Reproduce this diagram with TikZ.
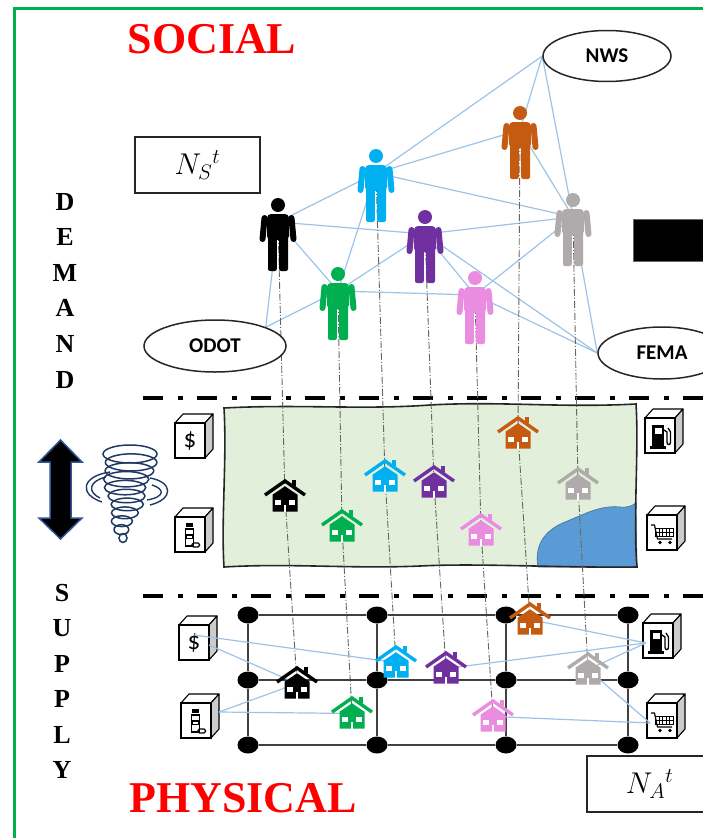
\documentclass[tikz,border=0pt]{standalone}
\usepackage{fix-cm}
\usepackage{fontspec}
\setmainfont{Liberation Serif}
\newfontfamily\calib{Carlito}
\usetikzlibrary{shapes.geometric}

\definecolor{frameGreen}{RGB}{0,176,80}
\definecolor{linkBlue}{RGB}{157,195,230}
\definecolor{pBlack}{RGB}{0,0,0}
\definecolor{pCyan}{RGB}{0,176,240}
\definecolor{pGreen}{RGB}{0,176,80}
\definecolor{pPurple}{RGB}{112,48,160}
\definecolor{pPink}{RGB}{234,140,224}
\definecolor{pOrange}{RGB}{197,90,17}
\definecolor{pGray}{RGB}{175,171,171}
\definecolor{mapGreen}{RGB}{226,239,218}
\definecolor{water}{RGB}{91,155,213}
\definecolor{waterEdge}{RGB}{60,110,160}
\definecolor{navy}{RGB}{31,56,100}
\definecolor{arrowBlue}{RGB}{47,85,151}
\definecolor{titleRed}{RGB}{255,0,0}

\pgfdeclarelayer{back}
\pgfdeclarelayer{links}
\pgfdeclarelayer{front}
\pgfsetlayers{back,links,main,front}

% 3D box with shaded side; origin = top-left corner of the front face
\newcommand\cubebody{%
  \filldraw[fill=white, draw=black, line width=1.1, line join=round] (0,0) -- (8,-9) -- (38,-9) -- (30,0) -- cycle;
  \filldraw[fill=black!20, draw=black, line width=1.1, line join=round] (30,0) -- (38,-9) -- (38,26) -- (30,35) -- cycle;
  \filldraw[fill=white, draw=black, line width=1.1] (0,0) rectangle (30,35);
  \coordinate (-a) at (15,10);
  \coordinate (-b) at (30,20);
  \coordinate (-s) at (38,9);
  \coordinate (-l) at (3,20);
}
% outline of the land parcel
\def\landoutline{(224,408) .. controls (300,404) and (360,410) .. (430,405) .. controls (500,401) and (560,408) .. (636,404) .. controls (639,450) and (633,520) .. (637,567) .. controls (560,568) and (480,563) .. (420,566) .. controls (350,569) and (290,563) .. (224,567) .. controls (221,520) and (227,460) .. cycle}

\tikzset{
  slink/.style={draw=linkBlue, line width=1.2},
  vlink/.style={draw=black!60, line width=0.9, dash pattern=on 7pt off 2pt on 1pt off 2pt},
  sepline/.style={line width=4.5, dash pattern=on 20pt off 15pt on 5pt off 14pt},
  gridline/.style={draw=black!75, line width=1.5},
  gdot/.style={ellipse, fill=black, minimum width=21, minimum height=17, inner sep=0},
  agency/.style={ellipse, draw=black!85, line width=1.5, fill=white, inner sep=0,
    font=\calib\bfseries\fontsize{21}{21}\selectfont},
  netbox/.style={draw=black!85, line width=1.5, minimum width=125, minimum height=56, inner sep=0,
    font=\fontsize{30}{30}\selectfont},
  bigtitle/.style={text=titleRed, font=\bfseries\fontsize{44}{44}\selectfont, inner sep=0},
  vletter/.style={font=\bfseries\fontsize{26}{26}\selectfont, inner sep=0},
  person/.pic={
    \fill[#1] (0,7) circle (7);
    \fill[#1, rounded corners=4] (-11,42) -- (-11,16) -- (11,16) -- (11,42) -- cycle;
    \draw[#1, line width=6, line cap=round] (-13.5,20) -- (-15.5,41);
    \draw[#1, line width=6, line cap=round] (13.5,20) -- (15.5,41);
    \fill[#1, rounded corners=2] (-10,38) rectangle (-1.2,73);
    \fill[#1, rounded corners=2] (1.2,38) rectangle (10,73);
    \coordinate (-c) at (0,24);
  },
  house/.pic={
    \fill[#1] (7,-16.5) rectangle (10.8,-10.5);
    \draw[#1, line width=3.4, line join=miter] (-20,-1.5) -- (0,-15.5) -- (20,-1.5);
    \fill[#1] (-12.5,-1.8) -- (0,-10.2) -- (12.5,-1.8) -- (12.5,15) -- (-12.5,15) -- cycle;
    \fill[white] (-9.8,3) rectangle (-4,8.8);
    \fill[white] (4,3) rectangle (9.8,8.8);
    \fill[white] (-1,8) rectangle (1,15);
    \coordinate (-c) at (0,0);
  },
  dollarcube/.pic={
    \cubebody
    \node[font=\calib\fontsize{25}{25}\selectfont, inner sep=0] (-t) at (15,17.5) {\$};
  },
  medcube/.pic={
    \cubebody
    \fill (11,6) rectangle (18,9.5);
    \fill (10,10.5) rectangle (19,12.5);
    \draw[line width=1.2] (10.6,12.5) rectangle (18.4,29);
    \fill (10,16.5) rectangle (19,22);
    \fill[white] (12,18.5) rectangle (17,20.5);
    \draw[line width=1.1, rounded corners=1.5] (17,26) rectangle (24.5,30);
  },
  pumpcube/.pic={
    \cubebody
    \fill (7,7) rectangle (19,29);
    \fill[white] (9.5,9.5) rectangle (16.5,16);
    \fill (5,28) rectangle (21,31);
    \draw[line width=1.3] (19,12) -- (22,14) -- (22,24) .. controls (22,27.5) and (25.5,27.5) .. (25.5,24) -- (25.5,14) -- (23,10);
  },
  cartcube/.pic={
    \cubebody
    \draw[line width=1.2, line join=round] (4,10) -- (7.5,10) -- (10.5,24) -- (25,24);
    \draw[line width=1] (8.5,13) rectangle (26,21);
    \foreach \xx in {12,15.5,19,22.5} \draw[line width=0.8] (\xx,13) -- (\xx,21);
    \draw[line width=0.8] (8.5,17) -- (26,17);
    \fill (13,27.5) circle (1.8);
    \fill (23,27.5) circle (1.8);
  },
}

\begin{document}
\begin{tikzpicture}[x=1pt,y=-1pt]
\useasboundingbox (0,0) rectangle (702,838);

% ---------- outer frame ----------
\draw[frameGreen, line width=3] (14,845) -- (14,8) -- (710,8);

% ---------- titles and side labels ----------
\node[bigtitle] (social) at (212,39) {SOCIAL};
\node[bigtitle] (physical) at (243,798.5) {PHYSICAL};
\foreach \ch [count=\k] in {D,E,M,A,N,D}
  \node[vletter] (dem\k) at (65,{166+35.6*\k}) {\ch};
\foreach \ch [count=\k] in {S,U,P,P,L,Y}
  \node[vletter] (sup\k) at (62,{557.5+35.4*\k}) {\ch};

\node[netbox] (ns) at (197.5,165) {$N_S{}^t$};
\node[netbox] (na) at (649.5,784) {$N_A{}^t$};

\fill[black, draw=black!60] (633,219) rectangle (710,261);

% ---------- agencies ----------
\node[agency, minimum width=128, minimum height=51] (nws) at (607,56) {NWS};
\node[agency, minimum width=142, minimum height=52] (odot) at (215,346) {ODOT};
\node[agency, minimum width=128, minimum height=52] (fema) at (662,353) {FEMA};

% ---------- people (social layer) ----------
\pic (pk) at (278,198) {person=pBlack};
\pic (pc) at (376,149) {person=pCyan};
\pic (pn) at (338,267) {person=pGreen};
\pic (pp) at (425,210) {person=pPurple};
\pic (pi) at (475,271) {person=pPink};
\pic (po) at (520,106) {person=pOrange};
\pic (pg) at (573,193) {person=pGray};

% ---------- houses (physical layer) ----------
\begin{pgfonlayer}{front}
  \pic (mk) at (285,496.5) {house=pBlack};
  \pic (mn) at (342,526.5) {house=pGreen};
  \pic (mc) at (385,476.5) {house=pCyan};
  \pic (mp) at (434,482.5) {house=pPurple};
  \pic (mo) at (518,433.5) {house=pOrange};
  \pic (mg) at (578,484.5) {house=pGray};
  \pic (mi) at (481,530.5) {house=pPink};
  \pic (gk) at (297,683.5) {house=pBlack};
  \pic (gn) at (352,713.5) {house=pGreen};
  \pic (gc) at (396,662.5) {house=pCyan};
  \pic (gp) at (446,668.5) {house=pPurple};
  \pic (gi) at (493,716.5) {house=pPink};
  \pic (go) at (530,619.5) {house=pOrange};
  \pic (gg) at (588,669.5) {house=pGray};
\end{pgfonlayer}

% ---------- social ties ----------
\begin{pgfonlayer}{links}
  \draw[slink] (nws.west) -- (pc-c);
  \draw[slink] (nws.west) -- (po-c);
  \draw[slink] (nws.west) -- (pg-c);
  \draw[slink] (pc-c) -- (po-c);
  \draw[slink] (pc-c) -- (pg-c);
  \draw[slink] (pk-c) -- (pc-c);
  \draw[slink] (pk-c) -- (pp-c);
  \draw[slink] (pk-c) -- (pn-c);
  \draw[slink] (pk-c) -- (odot.north east);
  \draw[slink] (pc-c) -- (pn-c);
  \draw[slink] (pn-c) -- (pp-c);
  \draw[slink] (pn-c) -- (pi-c);
  \draw[slink] (pn-c) -- (odot.north east);
  \draw[slink] (pp-c) -- (pg-c);
  \draw[slink] (pp-c) -- (pi-c);
  \draw[slink] (pp-c) -- (fema.west);
  \draw[slink] (pi-c) -- (pg-c);
  \draw[slink] (pi-c) -- (fema.west);
  \draw[slink] (pg-c) -- (fema.west);
  \draw[slink] (po-c) -- (pg-c);
  % person -> home -> home on the infrastructure grid
  \draw[vlink] (pk-c) -- (mk-c) -- (gk-c);
  \draw[vlink] (pn-c) -- (mn-c) -- (gn-c);
  \draw[vlink] (pc-c) -- (mc-c) -- (gc-c);
  \draw[vlink] (pp-c) -- (mp-c) -- (gp-c);
  \draw[vlink] (pi-c) -- (mi-c) -- (gi-c);
  \draw[vlink] (po-c) -- (mo-c) -- (go-c);
  \draw[vlink] (pg-c) -- (mg-c) -- (gg-c);
\end{pgfonlayer}

% ---------- land parcel with water body ----------
\begin{pgfonlayer}{back}
  \fill[mapGreen] \landoutline;
  \filldraw[fill=water, draw=waterEdge, line width=0.6] (538,567) .. controls (534,545) and (545,530) .. (565,522) .. controls (585,514) and (600,505) .. (620,507) .. controls (630,508) and (634,504) .. (636,503) -- (637,567) -- cycle;
  \draw[black!85, line width=1.6] \landoutline;
  \draw[sepline] (143,398) -- (710,398);
  \draw[sepline] (143,596) -- (710,596);
\end{pgfonlayer}

% ---------- infrastructure grid ----------
\foreach \c/\xx in {1/248,2/377,3/506,4/628}
  \foreach \r/\yy in {1/615,2/680,3/745}
    \node[gdot] (d\c\r) at (\xx,\yy) {};
\foreach \r in {1,2,3}{
  \draw[gridline] (d1\r) -- (d2\r);
  \draw[gridline] (d2\r) -- (d3\r);
  \draw[gridline] (d3\r) -- (d4\r);
}
\foreach \c in {1,2,3,4}{
  \draw[gridline] (d\c1) -- (d\c2);
  \draw[gridline] (d\c2) -- (d\c3);
}

% ---------- service boxes ----------
\pic (bDolM) at (175,423) {dollarcube};
\pic (bMedM) at (175,517) {medcube};
\pic (bPumpM) at (645,418) {pumpcube};
\pic (bCartM) at (647,515) {cartcube};
\pic (bDolG) at (179,625) {dollarcube};
\pic (bMedG) at (181,703) {medcube};
\pic (bPumpG) at (643,623) {pumpcube};
\pic (bCartG) at (647,703) {cartcube};

% ---------- service ties ----------
\draw[slink] (bDolG-a) -- (gc-c);
\draw[slink] (bDolG-b) -- (gk-c);
\draw[slink] (bMedG-s) -- (gk-c);
\draw[slink] (bMedG-s) -- (gn-c);
\draw[slink] (bPumpG-l) -- (go-c);
\draw[slink] (bPumpG-l) -- (gp-c);
\draw[slink] (bPumpG-l) -- (gg-c);
\draw[slink] (bCartG-l) -- (gg-c);
\draw[slink] (bCartG-l) -- (gi-c);

% ---------- double arrow ----------
\filldraw[fill=black, draw=arrowBlue, line width=1.5, line join=miter]
  (60.5,440) -- (82,462) -- (71,462) -- (71,518) -- (82,518) -- (60.5,539)
  -- (39,518) -- (50,518) -- (50,462) -- (39,462) -- cycle;

% ---------- tornado ----------
\foreach \i in {0,...,10}
  \draw[navy, line width=1.5] ({130-0.8*\i+2*sin(\i*75)},{454+8.4*\i}) ellipse ({27-1.1*\i-0.12*\i*\i} and {9-0.45*\i});
\draw[navy, line width=1.4] (110,472) .. controls (82,476) and (78,494) .. (102,502);
\draw[navy, line width=1.4] (106,477) .. controls (89,481) and (87,492) .. (100,498);
\draw[navy, line width=1.4] (150,478) .. controls (173,482) and (174,499) .. (150,505);
\draw[navy, line width=1.4] (152,485) .. controls (165,489) and (165,497) .. (147,500);

\end{tikzpicture}
\end{document}
